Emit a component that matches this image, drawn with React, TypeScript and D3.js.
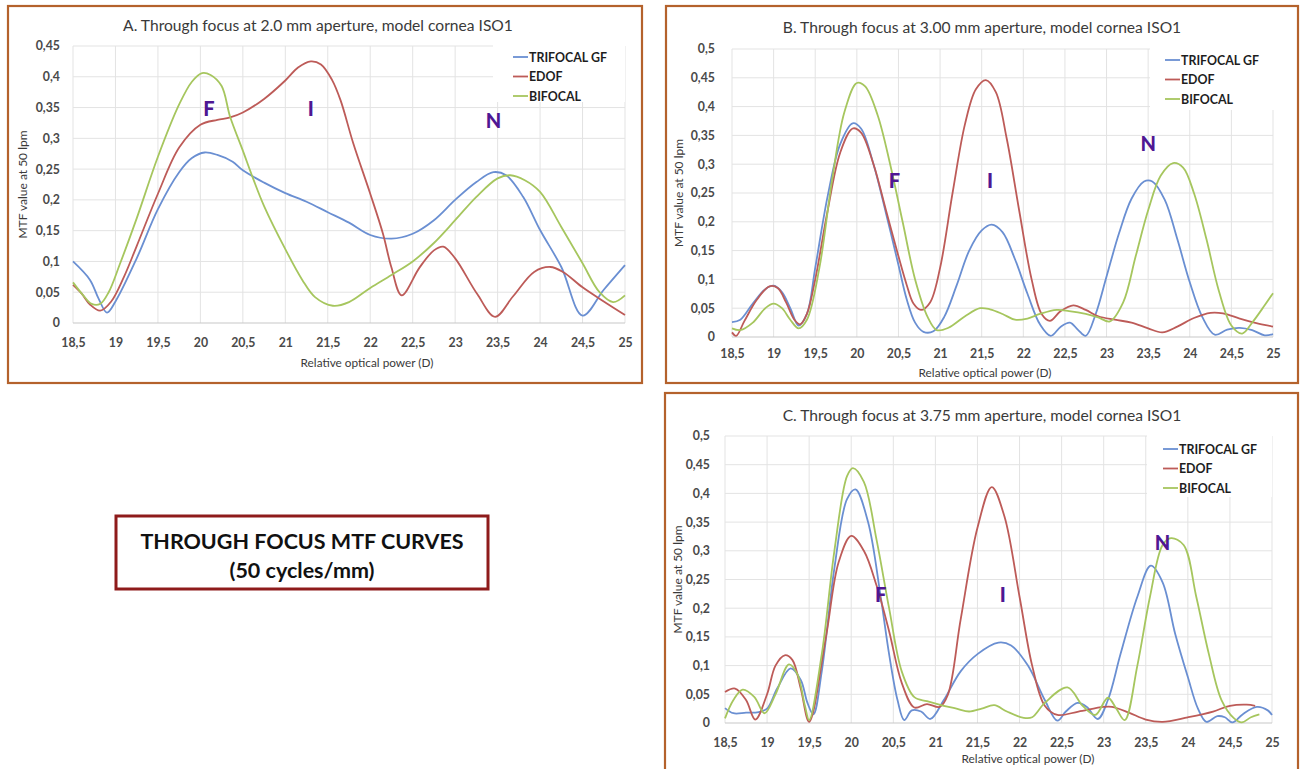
import React, { useEffect, useRef } from "react";
import * as d3 from "d3";

// relative optical power (D) ticks shared by all three panels
const xTicks = [18.5, 19, 19.5, 20, 20.5, 21, 21.5, 22, 22.5, 23, 23.5, 24, 24.5, 25];
const yTicksA = [0, 0.05, 0.1, 0.15, 0.2, 0.25, 0.3, 0.35, 0.4, 0.45];
const yTicksBC = [0, 0.05, 0.1, 0.15, 0.2, 0.25, 0.3, 0.35, 0.4, 0.45, 0.5];
const seriesNames = ["TRIFOCAL GF", "EDOF", "BIFOCAL"];
const seriesColors = ["#6a8fd2", "#bd5b58", "#a6c65e"];

// panel A: 2.0 mm aperture
const aTrifocal = [
  [18.5, 0.1], [18.7, 0.07], [18.8, 0.04], [18.9, 0.017], [19, 0.035], [19.25, 0.105], [19.5, 0.185],
  [19.75, 0.245], [19.9, 0.268], [20.05, 0.277], [20.2, 0.273], [20.38, 0.262], [20.5, 0.248],
  [20.75, 0.228], [21, 0.211], [21.25, 0.197], [21.5, 0.18], [21.75, 0.163], [22, 0.143],
  [22.25, 0.137], [22.5, 0.145], [22.75, 0.167], [23, 0.2], [23.25, 0.229], [23.45, 0.245],
  [23.6, 0.24], [23.8, 0.205], [24, 0.151], [24.25, 0.091], [24.5, 0.012], [24.75, 0.054], [25, 0.094],
];
const aEdof = [
  [18.5, 0.062], [18.6, 0.048], [18.7, 0.03], [18.82, 0.02], [18.95, 0.035], [19.1, 0.075],
  [19.25, 0.125], [19.5, 0.21], [19.75, 0.285], [20, 0.322], [20.2, 0.33], [20.35, 0.334],
  [20.5, 0.342], [20.75, 0.364], [21, 0.394], [21.15, 0.415], [21.3, 0.425], [21.42, 0.42],
  [21.55, 0.395], [21.65, 0.362], [21.8, 0.292], [22, 0.21], [22.15, 0.145], [22.25, 0.09],
  [22.37, 0.045], [22.58, 0.09], [22.75, 0.118], [22.86, 0.124], [23, 0.105], [23.26, 0.047],
  [23.47, 0.01], [23.68, 0.043], [23.93, 0.083], [24.12, 0.091], [24.27, 0.083], [24.5, 0.058],
  [24.75, 0.035], [25, 0.013],
];
const aBifocal = [
  [18.5, 0.066], [18.62, 0.045], [18.72, 0.031], [18.82, 0.031], [18.92, 0.05], [19.05, 0.095],
  [19.25, 0.17], [19.5, 0.27], [19.75, 0.355], [19.9, 0.392], [20.02, 0.406], [20.12, 0.403],
  [20.25, 0.385], [20.35, 0.335], [20.5, 0.28], [20.62, 0.235], [20.75, 0.19], [21, 0.12],
  [21.2, 0.07], [21.35, 0.042], [21.56, 0.028], [21.75, 0.034], [22, 0.057], [22.25, 0.078],
  [22.5, 0.1], [22.75, 0.13], [23, 0.167], [23.25, 0.205], [23.5, 0.235], [23.65, 0.24],
  [23.82, 0.232], [24, 0.213], [24.25, 0.156], [24.5, 0.097], [24.7, 0.05], [24.86, 0.034], [25, 0.045],
];

// panel B: 3.00 mm aperture
const bTrifocal = [
  [18.5, 0.026], [18.6, 0.03], [18.75, 0.058], [18.9, 0.083], [19, 0.089], [19.1, 0.078],
  [19.2, 0.05], [19.3, 0.02], [19.4, 0.04], [19.5, 0.12], [19.65, 0.245], [19.8, 0.335],
  [19.95, 0.371], [20.05, 0.362], [20.2, 0.3], [20.35, 0.215], [20.5, 0.125], [20.6, 0.065],
  [20.7, 0.025], [20.8, 0.009], [20.92, 0.01], [21.05, 0.035], [21.2, 0.09], [21.35, 0.15],
  [21.5, 0.185], [21.62, 0.195], [21.75, 0.182], [21.9, 0.135], [22.05, 0.075], [22.2, 0.022],
  [22.33, 0.002], [22.45, 0.018], [22.56, 0.025], [22.66, 0.012], [22.75, 0.002], [22.87, 0.04],
  [23, 0.105], [23.15, 0.18], [23.3, 0.24], [23.45, 0.27], [23.55, 0.27], [23.7, 0.238],
  [23.85, 0.17], [24, 0.095], [24.15, 0.035], [24.3, 0.004], [24.45, 0.013], [24.6, 0.016],
  [24.75, 0.012], [24.9, 0.003], [25, 0.005],
];
const bEdof = [
  [18.5, 0.008], [18.55, 0.002], [18.65, 0.028], [18.8, 0.065], [18.95, 0.088], [19.05, 0.085],
  [19.15, 0.06], [19.25, 0.03], [19.32, 0.022], [19.4, 0.04], [19.5, 0.1], [19.65, 0.22],
  [19.8, 0.32], [19.95, 0.362], [20.05, 0.355], [20.2, 0.3], [20.35, 0.22], [20.5, 0.14],
  [20.6, 0.09], [20.68, 0.058], [20.77, 0.047], [20.88, 0.06], [21, 0.12], [21.15, 0.25],
  [21.3, 0.37], [21.43, 0.43], [21.55, 0.446], [21.67, 0.425], [21.8, 0.345], [21.95, 0.22],
  [22.1, 0.1], [22.22, 0.04], [22.32, 0.028], [22.45, 0.045], [22.6, 0.055], [22.75, 0.047],
  [22.9, 0.036], [23.1, 0.03], [23.3, 0.025], [23.5, 0.015], [23.67, 0.008], [23.85, 0.018],
  [24.05, 0.033], [24.25, 0.042], [24.4, 0.041], [24.6, 0.032], [24.8, 0.024], [25, 0.018],
];
const bBifocal = [
  [18.5, 0.015], [18.6, 0.012], [18.75, 0.025], [18.9, 0.05], [19, 0.058], [19.1, 0.05],
  [19.2, 0.03], [19.3, 0.015], [19.4, 0.03], [19.55, 0.12], [19.7, 0.27], [19.85, 0.39],
  [20, 0.441], [20.1, 0.435], [20.25, 0.385], [20.4, 0.3], [20.55, 0.2], [20.7, 0.1],
  [20.85, 0.035], [20.96, 0.012], [21.1, 0.016], [21.3, 0.036], [21.48, 0.05], [21.6, 0.048],
  [21.75, 0.04], [21.9, 0.03], [22.05, 0.032], [22.2, 0.04], [22.4, 0.047], [22.55, 0.045],
  [22.75, 0.04], [22.9, 0.034], [23.04, 0.027], [23.2, 0.06], [23.35, 0.14], [23.5, 0.22],
  [23.65, 0.28], [23.8, 0.302], [23.92, 0.294], [24.05, 0.25], [24.2, 0.17], [24.35, 0.08],
  [24.5, 0.02], [24.63, 0.006], [24.75, 0.025], [24.9, 0.055], [25, 0.076],
];

// panel C: 3.75 mm aperture
const cTrifocal = [
  [18.5, 0.026], [18.6, 0.017], [18.75, 0.018], [18.9, 0.019], [19, 0.025], [19.12, 0.06],
  [19.28, 0.095], [19.4, 0.075], [19.48, 0.035], [19.55, 0.015], [19.65, 0.09], [19.8, 0.27],
  [19.95, 0.39], [20.05, 0.407], [20.2, 0.35], [20.35, 0.22], [20.45, 0.12], [20.55, 0.04],
  [20.63, 0.005], [20.72, 0.022], [20.83, 0.02], [20.94, 0.007], [21.1, 0.04], [21.3, 0.09],
  [21.5, 0.12], [21.75, 0.14], [21.9, 0.135], [22.1, 0.1], [22.3, 0.04], [22.45, 0.004],
  [22.55, 0.02], [22.69, 0.035], [22.8, 0.028], [22.93, 0.007], [23.05, 0.04], [23.2, 0.12],
  [23.4, 0.22], [23.56, 0.274], [23.7, 0.245], [23.85, 0.155], [24, 0.08], [24.12, 0.025],
  [24.22, 0.002], [24.35, 0.012], [24.44, 0.01], [24.53, 0.001], [24.65, 0.015], [24.82, 0.028],
  [24.95, 0.022], [25, 0.014],
];
const cEdof = [
  [18.5, 0.054], [18.62, 0.06], [18.75, 0.04], [18.86, 0.006], [19, 0.05], [19.1, 0.1],
  [19.21, 0.118], [19.3, 0.11], [19.4, 0.06], [19.5, 0.002], [19.7, 0.15], [19.85, 0.28],
  [20, 0.326], [20.15, 0.3], [20.3, 0.24], [20.45, 0.16], [20.6, 0.07], [20.75, 0.027],
  [20.9, 0.033], [21.05, 0.028], [21.15, 0.05], [21.3, 0.18], [21.5, 0.34], [21.67, 0.411],
  [21.82, 0.36], [22, 0.22], [22.15, 0.1], [22.3, 0.03], [22.45, 0.014], [22.7, 0.02],
  [23, 0.028], [23.1, 0.028], [23.3, 0.018], [23.5, 0.006], [23.7, 0.002], [24, 0.01],
  [24.3, 0.02], [24.5, 0.03], [24.7, 0.032], [24.8, 0.03],
];
const cBifocal = [
  [18.5, 0.008], [18.6, 0.04], [18.71, 0.058], [18.85, 0.045], [18.97, 0.017], [19.1, 0.05],
  [19.26, 0.102], [19.36, 0.085], [19.45, 0.03], [19.5, 0.005], [19.65, 0.12], [19.8, 0.3],
  [19.95, 0.43], [20.02, 0.444], [20.15, 0.42], [20.3, 0.32], [20.45, 0.2], [20.6, 0.09],
  [20.75, 0.045], [20.9, 0.038], [21.1, 0.03], [21.25, 0.025], [21.4, 0.02], [21.55, 0.025],
  [21.7, 0.031], [21.85, 0.02], [22.05, 0.009], [22.15, 0.01], [22.3, 0.035], [22.57, 0.062],
  [22.75, 0.03], [22.9, 0.014], [23.05, 0.044], [23.15, 0.025], [23.25, 0.005], [23.4, 0.1],
  [23.55, 0.22], [23.7, 0.31], [23.8, 0.322], [23.95, 0.31], [24.1, 0.22], [24.25, 0.12],
  [24.4, 0.04], [24.55, 0.008], [24.64, 0.001], [24.75, 0.01], [24.85, 0.015],
];

const panels = [
  {
    title: "A. Through focus at 2.0 mm aperture, model cornea ISO1",
    frame: [8, 6, 642, 383],
    plot: [73, 625, 46, 323],
    yTicks: yTicksA,
    titleX: 318, titleY: 25,
    yTitleX: 22, xTitleX: 367, xTitleY: 362,
    tickGap: 13, xTickY: 342,
    legend: { box: [493, 40, 625, 102], x: 513, y: 57 },
    marks: [["F", 20.1, 0.35], ["I", 21.3, 0.35], ["N", 23.45, 0.33]],
    series: [aTrifocal, aEdof, aBifocal],
  },
  {
    title: "B. Through focus at 3.00 mm aperture, model cornea ISO1",
    frame: [666, 6, 1298, 383],
    plot: [732, 1273, 49, 337],
    yTicks: yTicksBC,
    titleX: 982, titleY: 27,
    yTitleX: 678, xTitleX: 985, xTitleY: 372,
    tickGap: 17, xTickY: 353,
    legend: { box: [1150, 45, 1275, 110], x: 1165, y: 60 },
    marks: [["F", 20.45, 0.272], ["I", 21.6, 0.272], ["N", 23.5, 0.337]],
    series: [bTrifocal, bEdof, bBifocal],
  },
  {
    title: "C. Through focus at 3.75 mm aperture, model cornea ISO1",
    frame: [665, 393, 1298, 775],
    plot: [725, 1272, 436, 723],
    yTicks: yTicksBC,
    titleX: 982, titleY: 415,
    yTitleX: 677, xTitleX: 1028, xTitleY: 758,
    tickGap: 15, xTickY: 742,
    legend: { box: [1147, 432, 1272, 497], x: 1163, y: 449 },
    marks: [["F", 20.35, 0.225], ["I", 21.8, 0.225], ["N", 23.7, 0.315]],
    series: [cTrifocal, cEdof, cBifocal],
  },
];

const fmt = d3.formatLocale({ decimal: ",", thousands: ".", grouping: [3], currency: ["", ""] }).format("~g");
const FONT = "Lato, 'Open Sans', sans-serif";

export default function App() {
  const ref = useRef<SVGSVGElement>(null);

  useEffect(() => {
    const svg = d3.select(ref.current);
    svg.selectAll("*").remove();

    panels.forEach((p) => {
      const [fx0, fy0, fx1, fy1] = p.frame;
      const [px0, px1, py0, py1] = p.plot;
      const g = svg.append("g");

      g.append("rect")
        .attr("x", fx0).attr("y", fy0)
        .attr("width", fx1 - fx0).attr("height", fy1 - fy0)
        .attr("fill", "#fff").attr("stroke", "#b4622c").attr("stroke-width", 2.2);

      const x = d3.scaleLinear().domain([18.5, 25]).range([px0, px1]);
      const y = d3.scaleLinear().domain([0, d3.max(p.yTicks) as number]).range([py1, py0]);

      // gridlines
      g.append("g")
        .selectAll("line.h")
        .data(p.yTicks.filter((t) => t > 0))
        .join("line")
        .attr("x1", px0).attr("x2", px1)
        .attr("y1", (d) => y(d)).attr("y2", (d) => y(d))
        .attr("stroke", "#e3e3e3").attr("stroke-width", 1);
      g.append("g")
        .selectAll("line.v")
        .data(xTicks)
        .join("line")
        .attr("x1", (d) => x(d)).attr("x2", (d) => x(d))
        .attr("y1", py0).attr("y2", py1)
        .attr("stroke", "#e3e3e3").attr("stroke-width", 1);

      // legend background hides the grid behind it
      const [lx0, ly0, lx1, ly1] = p.legend.box;
      g.append("rect")
        .attr("x", lx0).attr("y", ly0)
        .attr("width", lx1 - lx0).attr("height", ly1 - ly0)
        .attr("fill", "#fff");

      // baseline
      g.append("line")
        .attr("x1", px0).attr("x2", px1)
        .attr("y1", y(0)).attr("y2", y(0))
        .attr("stroke", "#c8c8c8").attr("stroke-width", 1.2);

      // axes
      const xAxis = g.append("g")
        .attr("transform", `translate(0,${p.xTickY - 6.5})`)
        .call(d3.axisBottom(x).tickValues(xTicks).tickFormat((d) => fmt(d as number)).tickSize(0));
      const yAxis = g.append("g")
        .attr("transform", `translate(${px0 - p.tickGap},0)`)
        .call(d3.axisLeft(y).tickValues(p.yTicks).tickFormat((d) => fmt(d as number)).tickSize(0).tickPadding(0));
      [xAxis, yAxis].forEach((a) => {
        a.select(".domain").remove();
        a.selectAll("text")
          .attr("font-family", FONT).attr("font-size", 12.3)
          .attr("font-weight", 700).attr("fill", "#4a4a4a");
      });

      // titles
      g.append("text")
        .attr("x", p.titleX).attr("y", p.titleY)
        .attr("text-anchor", "middle").attr("dominant-baseline", "central")
        .attr("font-family", FONT).attr("font-size", 15.6).attr("fill", "#3a3a3a")
        .text(p.title);
      g.append("text")
        .attr("x", p.xTitleX).attr("y", p.xTitleY)
        .attr("text-anchor", "middle").attr("dominant-baseline", "central")
        .attr("font-family", FONT).attr("font-size", 11.8).attr("fill", "#3a3a3a")
        .text("Relative optical power (D)");
      g.append("text")
        .attr("transform", `translate(${p.yTitleX},${(py0 + py1) / 2}) rotate(-90)`)
        .attr("text-anchor", "middle").attr("dominant-baseline", "central")
        .attr("font-family", FONT).attr("font-size", 12).attr("fill", "#3a3a3a")
        .text("MTF value at 50 lpm");

      // curves
      const line = d3.line<number[]>()
        .x((d) => x(d[0]))
        .y((d) => y(d[1]))
        .curve(d3.curveCatmullRom.alpha(0.5));
      p.series.forEach((s, i) => {
        g.append("path")
          .datum(s)
          .attr("fill", "none")
          .attr("stroke", seriesColors[i])
          .attr("stroke-width", 1.8)
          .attr("d", line);
      });

      // legend
      seriesNames.forEach((name, i) => {
        const ly = p.legend.y + i * 19.5;
        g.append("line")
          .attr("x1", p.legend.x).attr("x2", p.legend.x + 15)
          .attr("y1", ly).attr("y2", ly)
          .attr("stroke", seriesColors[i]).attr("stroke-width", 1.8);
        g.append("text")
          .attr("x", p.legend.x + 16).attr("y", ly)
          .attr("dominant-baseline", "central")
          .attr("font-family", FONT).attr("font-size", 12.4).attr("font-weight", 700)
          .attr("fill", "#1e1e1e")
          .text(name);
      });

      // focus labels
      p.marks.forEach(([t, mx, my]) => {
        g.append("text")
          .attr("x", x(mx as number)).attr("y", y(my as number))
          .attr("text-anchor", "middle").attr("dominant-baseline", "central")
          .attr("font-family", FONT).attr("font-size", 20).attr("font-weight", 900)
          .attr("fill", "#4f1793")
          .text(t as string);
      });
    });

    // caption box
    const cap = svg.append("g");
    cap.append("rect")
      .attr("x", 116).attr("y", 516).attr("width", 372).attr("height", 73)
      .attr("fill", "#fff").attr("stroke", "#8e1b1b").attr("stroke-width", 3);
    cap.append("text")
      .attr("x", 302).attr("y", 541)
      .attr("text-anchor", "middle").attr("dominant-baseline", "central")
      .attr("font-family", FONT).attr("font-size", 21.5).attr("font-weight", 700).attr("fill", "#111")
      .text("THROUGH FOCUS MTF CURVES");
    cap.append("text")
      .attr("x", 302).attr("y", 570)
      .attr("text-anchor", "middle").attr("dominant-baseline", "central")
      .attr("font-family", FONT).attr("font-size", 21.5).attr("font-weight", 700).attr("fill", "#111")
      .text("(50 cycles/mm)");
  }, []);

  return (
    <svg
      ref={ref}
      width={1300}
      height={769}
      style={{ position: "absolute", left: 0, top: 0, display: "block", background: "#fff" }}
    />
  );
}
